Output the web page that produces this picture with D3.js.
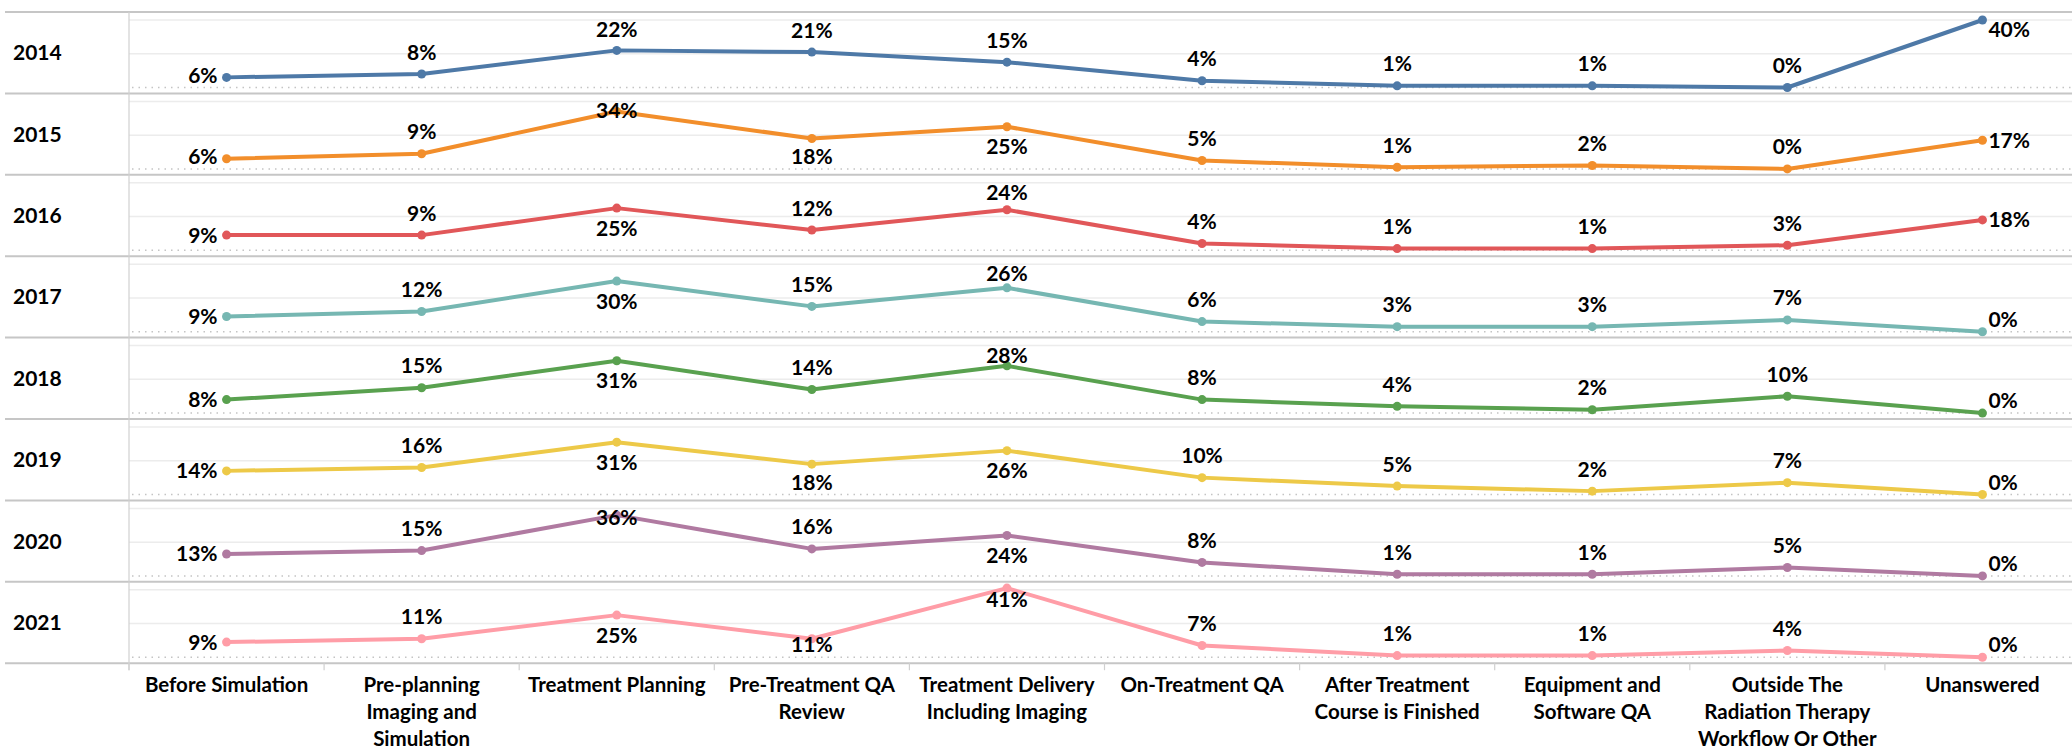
<!DOCTYPE html>
<html>
<head>
<meta charset="utf-8">
<script src="https://cdnjs.cloudflare.com/ajax/libs/d3/7.8.5/d3.min.js"></script>
<style>
body { margin: 0; background: #fff; }
text { font-family: Lato, "Open Sans", sans-serif; font-weight: 700; fill: #000; }
</style>
</head>
<body>
<svg id="chart" width="2072" height="749"></svg>
<script>
var years = ["2014", "2015", "2016", "2017", "2018", "2019", "2020", "2021"];

var categories = [
  "Before Simulation",
  "Pre-planning|Imaging and|Simulation",
  "Treatment Planning",
  "Pre-Treatment QA|Review",
  "Treatment Delivery|Including Imaging",
  "On-Treatment QA",
  "After Treatment|Course is Finished",
  "Equipment and|Software QA",
  "Outside The|Radiation Therapy|Workflow Or Other",
  "Unanswered"
];

var v2014 = [6, 8, 22, 21, 15, 4, 1, 1, 0, 40];
var v2015 = [6, 9, 34, 18, 25, 5, 1, 2, 0, 17];
var v2016 = [9, 9, 25, 12, 24, 4, 1, 1, 3, 18];
var v2017 = [9, 12, 30, 15, 26, 6, 3, 3, 7, 0];
var v2018 = [8, 15, 31, 14, 28, 8, 4, 2, 10, 0];
var v2019 = [14, 16, 31, 18, 26, 10, 5, 2, 7, 0];
var v2020 = [13, 15, 36, 16, 24, 8, 1, 1, 5, 0];
var v2021 = [9, 11, 25, 11, 41, 7, 1, 1, 4, 0];

var allValues = [v2014, v2015, v2016, v2017, v2018, v2019, v2020, v2021];

var colors = ["#4e79a7", "#f28e2b", "#e15759", "#76b7b2", "#59a14f", "#edc948", "#b07aa1", "#ff9da7"];

// where each data label sits: l=left, r=right, a=above, b=below, c=on the point
var labelSides = [
  "laaaaaaaar",
  "laabbaaaar",
  "labaaaaaar",
  "labaaaaaar",
  "labaaaaaar",
  "labbbaaaar",
  "laaabaaaar",
  "labbcaaaar"
];

var W = 2072;
var top0 = 12;
var panelH = 81.4;
var leftX = 129;

var svg = d3.select("#chart");

var x = d3.scaleBand().domain(categories).range([leftX, 2080]);
var cx = function(c) { return x(c) + x.bandwidth() / 2; };

var y = d3.scaleLinear().domain([0, 40]).range([75.5, 8]);

years.forEach(function(yr, i) {
  var P = top0 + i * panelH;
  var g = svg.append("g").attr("transform", "translate(0," + P + ")");

  // gridlines
  g.selectAll(".grid").data([20, 40]).enter().append("line")
    .attr("x1", leftX).attr("x2", W)
    .attr("y1", function(d) { return y(d); })
    .attr("y2", function(d) { return y(d); })
    .attr("stroke", "#ececec").attr("stroke-width", 1.5);

  g.append("line")
    .attr("x1", leftX + 3).attr("x2", W)
    .attr("y1", y(0)).attr("y2", y(0))
    .attr("stroke", "#c4c4c4").attr("stroke-width", 1.5)
    .attr("stroke-dasharray", "1.5,5");

  g.append("text")
    .attr("x", 13).attr("y", panelH / 2 + 7.5)
    .style("font-size", "21px")
    .text(yr);

  var vals = allValues[i];
  var pts = categories.map(function(c, k) { return { c: c, v: vals[k], side: labelSides[i][k] }; });

  var line = d3.line()
    .x(function(d) { return cx(d.c); })
    .y(function(d) { return y(d.v); });

  g.append("path")
    .datum(pts)
    .attr("d", line)
    .attr("fill", "none")
    .attr("stroke", colors[i])
    .attr("stroke-width", 4)
    .attr("stroke-linejoin", "round");

  g.selectAll(".dot").data(pts).enter().append("circle")
    .attr("cx", function(d) { return cx(d.c); })
    .attr("cy", function(d) { return y(d.v); })
    .attr("r", 4.5)
    .attr("fill", colors[i]);

  g.selectAll(".lbl").data(pts).enter().append("text")
    .style("font-size", "21px")
    .attr("text-anchor", function(d) {
      if (d.side == "l") return "end";
      if (d.side == "r") return "start";
      return "middle";
    })
    .attr("x", function(d) {
      if (d.side == "l") return cx(d.c) - 9;
      if (d.side == "r") return cx(d.c) + 6;
      return cx(d.c);
    })
    .attr("y", function(d) {
      var py = y(d.v);
      var mid = py;
      if (d.side == "a") mid = py - 22;
      if (d.side == "b") mid = py + 20;
      mid = Math.max(17.5, Math.min(63, mid));
      return mid + 7.5;
    })
    .text(function(d) { return d.v + "%"; });
});

// panel separators
svg.selectAll(".sep").data(d3.range(years.length + 1)).enter().append("line")
  .attr("x1", 5).attr("x2", W)
  .attr("y1", function(d) { return top0 + d * panelH; })
  .attr("y2", function(d) { return top0 + d * panelH; })
  .attr("stroke", "#c6c6c6").attr("stroke-width", 2);

var bottom = top0 + years.length * panelH;

svg.append("line")
  .attr("x1", leftX).attr("x2", leftX)
  .attr("y1", top0).attr("y2", bottom + 7)
  .attr("stroke", "#d0d0d0").attr("stroke-width", 1.2);

// category ticks at band edges
svg.selectAll(".tick").data(categories).enter().append("line")
  .attr("x1", function(d) { return x(d); })
  .attr("x2", function(d) { return x(d); })
  .attr("y1", bottom).attr("y2", bottom + 7)
  .attr("stroke", "#d0d0d0").attr("stroke-width", 1.2);

var catText = svg.selectAll(".cat").data(categories).enter().append("text")
  .attr("text-anchor", "middle")
  .style("font-size", "20.5px")
  .attr("y", bottom + 29);

catText.selectAll("tspan")
  .data(function(d) { return d.split("|").map(function(s) { return { s: s, c: d }; }); })
  .enter().append("tspan")
  .attr("x", function(d) { return cx(d.c); })
  .attr("dy", function(d, k) { return k == 0 ? 0 : 27; })
  .text(function(d) { return d.s; });
</script>
</body>
</html>
